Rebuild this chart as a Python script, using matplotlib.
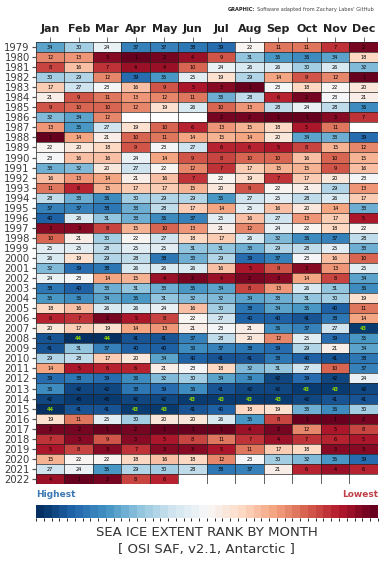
import numpy as np
import matplotlib.pyplot as plt
from matplotlib.colors import ListedColormap, BoundaryNorm

months = ['Jan', 'Feb', 'Mar', 'Apr', 'May', 'Jun', 'Jul', 'Aug', 'Sep', 'Oct', 'Nov', 'Dec']
years = list(range(1979, 2023))
N = None

# rank of monthly extent (1 = lowest, 44 = highest)
ranks = [
    [34, 30, 24, 37, 37, 38, 39, 22, 11, 11, 7, 2],    # 1979
    [12, 13, 3, 1, 2, 4, 9, 31, 35, 36, 34, 18],       # 1980
    [8, 16, 7, 4, 4, 10, 24, 26, 26, 30, 26, 32],      # 1981
    [30, 29, 12, 39, 35, 25, 19, 29, 14, 9, 12, 1],    # 1982
    [17, 27, 23, 16, 9, 5, 3, 1, 23, 18, 22, 20],      # 1983
    [21, 9, 11, 13, 12, 11, 33, 28, 6, 2, 23, 21],     # 1984
    [9, 10, 10, 12, 19, 26, 10, 13, 28, 24, 28, 36],   # 1985
    [32, 34, 12, N, N, N, 2, 2, 1, 1, 3, 7],           # 1986
    [13, 35, 27, 19, 10, 6, 13, 15, 18, 5, 11, N],     # 1987
    [1, 14, 21, 10, 11, 14, 15, 14, 20, 34, 33, 39],   # 1988
    [22, 20, 18, 9, 23, 27, 6, 6, 5, 8, 15, 12],       # 1989
    [23, 16, 16, 24, 14, 9, 8, 10, 10, 16, 10, 15],    # 1990
    [33, 32, 20, 27, 22, 12, 7, 17, 15, 15, 9, 16],    # 1991
    [16, 13, 14, 21, 16, 7, 22, 19, 7, 17, 20, 23],    # 1992
    [11, 6, 15, 17, 17, 15, 20, 9, 22, 21, 29, 13],    # 1993
    [28, 33, 36, 30, 29, 29, 35, 27, 25, 28, 26, 17],  # 1994
    [37, 37, 38, 33, 28, 17, 14, 25, 16, 20, 14, 33],  # 1995
    [40, 26, 31, 33, 36, 37, 25, 16, 27, 13, 17, 5],   # 1996
    [3, 3, 8, 15, 10, 13, 21, 12, 24, 22, 18, 22],     # 1997
    [10, 21, 30, 22, 27, 18, 17, 26, 32, 36, 37, 28],  # 1998
    [25, 25, 28, 25, 25, 31, 31, 33, 29, 28, 25, 33],  # 1999
    [26, 19, 29, 28, 38, 33, 29, 39, 37, 23, 16, 10],  # 2000
    [32, 39, 38, 26, 26, 26, 16, 5, 9, 3, 13, 25],     # 2001
    [24, 23, 14, 15, 4, 2, 4, 2, 3, 14, 8, 34],        # 2002
    [38, 40, 33, 31, 33, 35, 34, 8, 13, 26, 31, 36],   # 2003
    [35, 36, 34, 35, 31, 32, 32, 34, 33, 31, 30, 19],  # 2004
    [18, 16, 26, 26, 24, 16, 30, 38, 34, 35, 40, 11],  # 2005
    [6, 7, 2, 5, 8, 22, 27, 40, 40, 41, 38, 14],       # 2006
    [20, 17, 19, 14, 13, 21, 23, 21, 36, 37, 27, 43],  # 2007
    [41, 44, 44, 41, 41, 37, 28, 20, 12, 25, 39, 35],  # 2008
    [41, 31, 37, 40, 40, 36, 37, 38, 39, 29, 21, 34],  # 2009
    [29, 28, 17, 20, 34, 40, 41, 41, 38, 40, 41, 38],  # 2010
    [14, 5, 6, 6, 21, 23, 18, 32, 31, 27, 10, 37],     # 2011
    [39, 38, 39, 36, 32, 30, 34, 36, 42, 39, 42, 24],  # 2012
    [36, 42, 42, 38, 39, 36, 41, 42, 42, 43, 43, 42],  # 2013
    [42, 43, 43, 42, 42, 43, 43, 43, 43, 42, 41, 41],  # 2014
    [44, 41, 41, 43, 43, 41, 40, 18, 19, 33, 36, 30],  # 2015
    [19, 11, 25, 30, 20, 20, 26, 35, 8, 1, 1, 2],      # 2016
    [2, 2, 1, 2, 1, 1, 1, 4, 2, 12, 5, 8],             # 2017
    [7, 3, 9, 3, 5, 8, 11, 7, 4, 7, 6, 5],             # 2018
    [5, 8, 3, 7, 3, 3, 5, 11, 17, 18, 3, 3],           # 2019
    [15, 22, 22, 18, 16, 18, 12, 23, 30, 32, 35, 39],  # 2020
    [27, 24, 35, 29, 30, 28, 38, 37, 21, 6, 4, 6],     # 2021
    [4, 1, 2, 8, 6, N, N, N, N, N, N, N],              # 2022
]

data = np.array([[np.nan if v is None else v for v in row] for row in ranks], dtype=float)
vals = np.ma.masked_invalid(data)

base = plt.get_cmap('RdBu')
cmap = ListedColormap(base(np.linspace(0, 1, 44)))
norm = BoundaryNorm(np.arange(0.5, 45.5, 1), cmap.N)

fig = plt.figure(figsize=(3.79, 5.64), dpi=100)
ax = fig.add_axes([0.095, 0.142, 0.902, 0.7835])

ax.pcolormesh(np.arange(13), np.arange(45), vals, cmap=cmap, norm=norm)
ax.set_xlim(0, 12)
ax.set_ylim(44, 0)

colmax = np.nanmax(data, axis=0)
for i in range(data.shape[0]):
    for j in range(12):
        v = data[i, j]
        if np.isnan(v):
            continue
        c = '#8fd400' if v == colmax[j] else 'k'
        ax.text(j + 0.5, i + 0.55, f'{int(v)}', ha='center', va='center',
                fontsize=3.6, color=c, fontweight='bold' if c != 'k' else 'normal')

# cell borders
ax.set_xticks(np.arange(13), minor=True)
ax.set_yticks(np.arange(45), minor=True)
ax.grid(which='minor', color='#222222', lw=0.5)
ax.tick_params(which='minor', length=0)

ax.set_xticks(np.arange(12) + 0.5)
ax.set_xticklabels(months, fontsize=8, fontweight='bold', color='#222222')
ax.xaxis.tick_top()
ax.set_yticks(np.arange(44) + 0.5)
ax.set_yticklabels(years, fontsize=7.2, color='#3a3a3a')
ax.tick_params(axis='x', which='major', length=3.5, width=0.6, color='#555555', pad=2)
ax.tick_params(axis='y', which='major', length=3, width=0.9, color='#555555', pad=1.5)
for s in ax.spines.values():
    s.set_visible(False)

# colorbar, highest on the left
cax = fig.add_axes([0.095, 0.082, 0.902, 0.022])
cb = fig.colorbar(plt.cm.ScalarMappable(norm=norm, cmap=cmap), cax=cax, orientation='horizontal')
cax.invert_xaxis()
cb.set_ticks([])
cb.outline.set_visible(False)

fig.text(0.095, 0.115, 'Highest', fontsize=6.5, fontweight='bold', color='#3b78b4', ha='left', va='bottom')
fig.text(0.997, 0.115, 'Lowest', fontsize=6.5, fontweight='bold', color='#c0404a', ha='right', va='bottom')
fig.text(0.545, 0.055, 'SEA ICE EXTENT RANK BY MONTH', fontsize=9.5, color='#333333', ha='center', va='center')
fig.text(0.545, 0.025, '[ OSI SAF, v2.1, Antarctic ]', fontsize=9.5, color='#333333', ha='center', va='center')

fig.text(0.672, 0.983, 'GRAPHIC:', fontsize=3.6, fontweight='bold', color='#222222', ha='right', va='center')
fig.text(0.678, 0.983, "Software adapted from Zachary Labes' GitHub", fontsize=3.6, color='#444444', ha='left', va='center')

fig.savefig('out.png', dpi=100)
